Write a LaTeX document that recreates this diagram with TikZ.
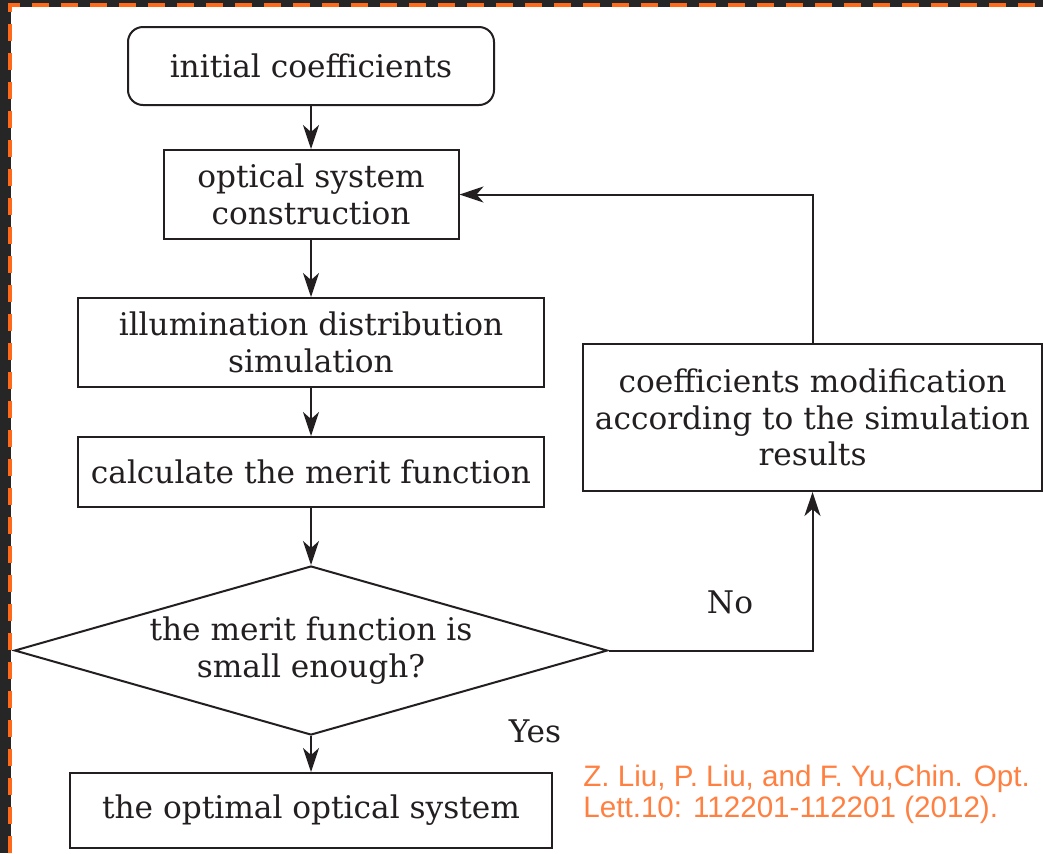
\documentclass[tikz,border=0pt]{standalone}
\usepackage{fontspec}
\newfontfamily\citefont{Liberation Sans}
\newfontfamily\chartfont{DejaVu Serif}
\usetikzlibrary{arrows.meta, positioning, shapes.geometric}
\definecolor{framebg}{HTML}{262626}
\definecolor{frameline}{HTML}{FF6A1A}
\definecolor{citecol}{HTML}{FF8040}
\definecolor{ink}{HTML}{231F20}

\begin{document}
\begin{tikzpicture}[
    x=0.5pt, y=-0.5pt,
    >={Stealth[length=12pt, width=8pt, inset=3.5pt]},
    box/.style={draw=ink, line width=1pt, text=ink, align=center,
        font=\chartfont\fontsize{15.6}{18.3}\selectfont, inner sep=2pt},
    startbox/.style={box, rounded corners=7.5pt},
    decision/.style={box, diamond, aspect=3.5, inner sep=0pt},
    lbl/.style={text=ink, font=\chartfont\fontsize{15.6}{18.3}\selectfont},
    cite/.style={text=citecol, align=left, inner sep=0pt,
        font=\citefont\fontsize{14.8}{15.2}\selectfont},
    flow/.style={->, draw=ink, line width=1pt}
]
    \useasboundingbox (0,0) rectangle (1043,853);
    % frame
    \fill[framebg] (0,0) rectangle (1043,853);
    \fill[white] (11,7) rectangle (1043,853);
    \draw[frameline, line width=2pt, dash pattern=on 8.5pt off 6pt]
        (10,853) -- (10,5) -- (1043,5);

    \node[startbox, minimum width=183pt, minimum height=39pt] (init) at (311,66) {initial coefficients};
    \node[box, minimum width=147.5pt, minimum height=44.5pt, below=21.5pt of init] (optical) {optical system\\construction};
    \node[box, minimum width=233pt, minimum height=44.5pt, below=28.5pt of optical] (illum) {illumination distribution\\simulation};
    \node[box, minimum width=233pt, minimum height=35pt, below=24pt of illum] (merit) {calculate the merit function};
    \node[decision, minimum width=296.5pt, minimum height=84.5pt, below=28.5pt of merit] (check) {the merit function is\\small enough?};
    \node[box, minimum width=241pt, minimum height=37.5pt, below=18pt of check] (optimal) {the optimal optical system};
    \node[box, minimum width=229.5pt, minimum height=73.5pt] (modify) at (812.5,417.5) {coefficients modification\\according to the simulation\\results};

    \node[lbl] (no) at (730,602) {No};
    \node[lbl] (yes) at (535,731) {Yes};

    \draw[flow] (init) -- (optical);
    \draw[flow] (optical) -- (illum);
    \draw[flow] (illum) -- (merit);
    \draw[flow] (merit) -- (check);
    \draw[flow] (check) -- (optimal);
    \draw[flow] (check.east) -| (modify.south);
    \draw[flow] (modify.north) |- (optical.east);

    \node[cite, anchor=north west] (ref) at (583,765) {Z. Liu, P. Liu, and F. Yu,Chin. Opt.\\Lett.10: 112201-112201 (2012).};
\end{tikzpicture}
\end{document}
